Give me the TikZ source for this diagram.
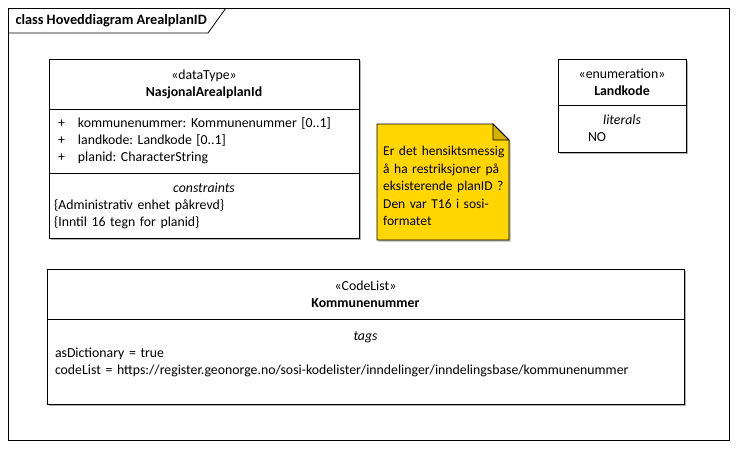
\documentclass[tikz,border=0pt]{standalone}
\usepackage{fontspec}
\setmainfont{Carlito}
\usetikzlibrary{positioning,shadows}

\definecolor{notefill}{RGB}{255,214,0}
\definecolor{notefold}{RGB}{214,178,0}
\newcommand{\umlfont}{\frenchspacing\fontsize{13.8}{17}\selectfont}
\newcommand{\umlattr}[1]{\makebox[20pt][l]{+}#1}
\newcommand{\lline}[1]{\makebox[\hsize][l]{#1}}

\begin{document}
\begin{tikzpicture}[x=1pt,y=-1pt,
    every node/.style={font=\umlfont},
    umlbox/.style={draw,shape=rectangle,fill=white,line width=0.8pt,minimum width=#1,inner sep=0pt,outer sep=0pt,
      drop shadow={shadow xshift=1.5pt,shadow yshift=-1.5pt,fill=black!30,opacity=1}},
    umlbox/.default=100]
        \useasboundingbox (0,0) rectangle (737,448);
        % frame and title tab
        \draw (8,8) node (Frame) [draw,line width=0.8pt,shape=rectangle,minimum width=721,minimum height=432,anchor=north west] {};
        \draw[line width=0.8pt] (Frame.north west)++(0,25) -- ++(200,0) -- ([xshift=218pt]Frame.north west);
        \draw (12,20.5) node (Title) [anchor=west,font=\frenchspacing\fontsize{14.3}{17}\selectfont\bfseries] {class Hoveddiagram ArealplanID};
        % NasjonalArealplanId
        \draw (49,59) node (NAhead) [umlbox=310,minimum height=50,anchor=north west,align=center] {«dataType»\\\textbf{NasjonalArealplanId}};
        \node (NAattr) [umlbox=310,minimum height=64,below=0pt of NAhead,text width=292,inner xsep=9pt,align=left] {\umlattr{kommunenummer: Kommunenummer [0..1]}\\\umlattr{landkode: Landkode [0..1]}\\\umlattr{planid: CharacterString}};
        \node (NAcons) [umlbox=310,minimum height=65,below=0pt of NAattr,text width=300,inner xsep=5pt,align=center] {\textit{constraints}\\\lline{\{Administrativ enhet påkrevd\}}\\\lline{\{Inntil 16 tegn for planid\}}};
        % Landkode
        \draw (558,59) node (LKhead) [umlbox=128,minimum height=46,anchor=north west,align=center] {«enumeration»\\\textbf{Landkode}};
        \node (LKlit) [umlbox=128,minimum height=47,below=0pt of LKhead,text width=128,align=center] {\textit{literals}\\\lline{\hspace{30pt}NO}};
        % note
        \coordinate (NoteNW) at (377,124);
        \coordinate (NoteFold) at (493,124);
        \coordinate (NoteFoldIn) at (493,140);
        \coordinate (NoteNE) at (509,140);
        \coordinate (NoteSE) at (509,240);
        \coordinate (NoteSW) at (377,240);
        \fill[black!30] ([shift={(1.5,1.5)}]NoteNW) -- ([shift={(1.5,1.5)}]NoteFold) -- ([shift={(1.5,1.5)}]NoteNE) -- ([shift={(1.5,1.5)}]NoteSE) -- ([shift={(1.5,1.5)}]NoteSW) -- cycle;
        \draw[fill=notefill,line width=0.8pt] (NoteNW) -- (NoteFold) -- (NoteNE) -- (NoteSE) -- (NoteSW) -- cycle;
        \draw[fill=notefold,line width=0.8pt] (NoteFold) -- (NoteFoldIn) -- (NoteNE) -- cycle;
        \draw (383,146) node (Note) [anchor=north west,inner sep=0pt,text width=124,align=left,font=\frenchspacing\fontsize{13.5}{17.5}\selectfont] {Er det hensiktsmessig\\å ha restriksjoner på\\eksisterende planID ?\\Den var T16 i sosi-\\formatet};
        % Kommunenummer
        \draw (47,269) node (KNhead) [umlbox=637,minimum height=50,anchor=north west,align=center] {«CodeList»\\\textbf{Kommunenummer}};
        \node (KNtags) [umlbox=637,minimum height=85,below=0pt of KNhead,text width=621,inner xsep=8pt,align=center] {\textit{tags}\\\lline{asDictionary = true}\\\lline{codeList = https://register.geonorge.no/sosi-kodelister/inndelinger/inndelingsbase/kommunenummer}\\\mbox{}};
    \end{tikzpicture}
\end{document}
